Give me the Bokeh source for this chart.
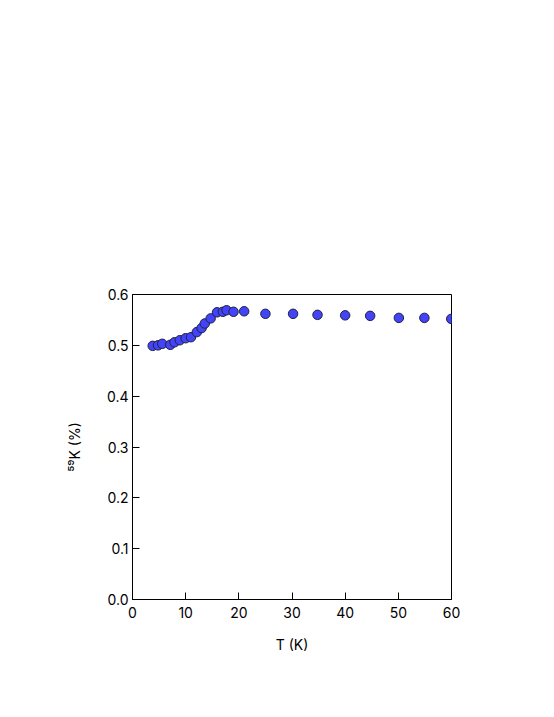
from bokeh.plotting import figure
from bokeh.models import Range1d, FixedTicker
from bokeh.embed import file_html
from bokeh.resources import INLINE

temperature_K = [3.8, 4.8, 5.6, 7.1, 7.9, 8.9, 10.0, 11.0, 12.1, 13.0, 13.6, 14.7,
                 15.9, 17.0, 17.7, 19.0, 21.0, 25.0, 30.2, 34.8, 40.0, 44.7, 50.1, 54.9, 59.95]
knight_shift_pct = [0.499, 0.500, 0.503, 0.501, 0.506, 0.510, 0.514, 0.516, 0.526, 0.534, 0.543, 0.553,
                    0.565, 0.566, 0.569, 0.566, 0.567, 0.562, 0.562, 0.560, 0.559, 0.558, 0.554, 0.554, 0.552]
x_ticks = [0, 10, 20, 30, 40, 50, 60]
y_ticks = [0.0, 0.1, 0.2, 0.3, 0.4, 0.5, 0.6]
x_label = "T (K)"
y_label = "\u2075\u2079K (%)"

FONT = "Inter"

p = figure(frame_width=319, frame_height=305, min_border_left=132, min_border_top=294,
           min_border_right=90, min_border_bottom=100,
           x_range=Range1d(0, 60), y_range=Range1d(0, 0.6),
           output_backend="svg", toolbar_location=None)

p.background_fill_color = "white"
p.border_fill_color = "white"
p.outline_line_color = "black"
p.outline_line_width = 1
p.grid.visible = False

for ax in (p.xaxis[0], p.yaxis[0]):
    ax.major_tick_in = 7
    ax.major_tick_out = 0
    ax.minor_tick_in = 0
    ax.minor_tick_out = 0
    ax.axis_line_color = "black"
    ax.major_tick_line_color = "black"
    ax.major_label_text_font = FONT
    ax.major_label_text_font_size = "14px"
    ax.major_label_text_color = "black"
    ax.axis_label_text_font = FONT
    ax.axis_label_text_font_size = "14px"
    ax.axis_label_text_font_style = "normal"
    ax.axis_label_text_color = "black"

p.xaxis[0].ticker = FixedTicker(ticks=x_ticks)
p.yaxis[0].ticker = FixedTicker(ticks=y_ticks)
p.xaxis[0].major_label_overrides = {t: str(t) for t in x_ticks}
p.yaxis[0].major_label_overrides = {t: f"{t:.1f}" for t in y_ticks}
p.xaxis[0].major_label_standoff = 7
p.yaxis[0].major_label_standoff = 4

p.xaxis[0].axis_label = x_label
p.xaxis[0].axis_label_standoff = 15
p.yaxis[0].axis_label = y_label
p.yaxis[0].axis_label_standoff = 21

p.scatter(temperature_K, knight_shift_pct, size=9.5, fill_color="#4343f7",
          line_color="#222244", line_width=1)

open("out.html", "w").write(file_html(p, INLINE))
